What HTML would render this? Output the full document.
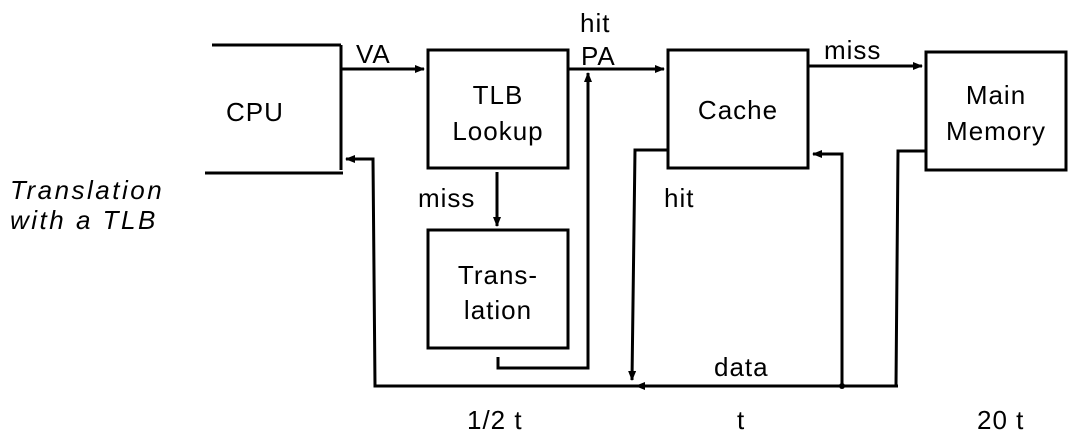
<!DOCTYPE html>
<html><head><style>
html,body{margin:0;padding:0;background:#fff;}
svg text{font-family:"Liberation Sans",sans-serif;font-size:26px;fill:#000;letter-spacing:1px;}
</style></head><body>
<svg width="1069" height="440" viewBox="0 0 1069 440" xmlns="http://www.w3.org/2000/svg">
<defs><marker id="a" markerWidth="10" markerHeight="8" refX="9" refY="4" orient="auto" markerUnits="userSpaceOnUse"><path d="M0,0 L10,4 L0,8 z" fill="#000"/></marker></defs>
<g stroke="#000" stroke-width="3" fill="none">
<line x1="212" y1="45" x2="341" y2="45"/>
<line x1="341" y1="45" x2="341" y2="170"/>
<line x1="205" y1="173" x2="343" y2="173"/>
<line x1="342" y1="69" x2="424" y2="69" marker-end="url(#a)"/>
<rect x="428" y="50" width="140" height="118"/>
<rect x="428" y="230" width="140" height="118"/>
<line x1="497" y1="172" x2="497" y2="226" marker-end="url(#a)"/>
<polyline points="498,357 498,368 588,368 588,73" marker-end="url(#a)"/>
<line x1="568" y1="69" x2="664" y2="69" marker-end="url(#a)"/>
<rect x="668" y="50" width="140" height="118"/>
<polyline points="668,150 635,150 632,380" marker-end="url(#a)"/>
<line x1="898" y1="386" x2="636" y2="386" marker-end="url(#a)"/>
<polyline points="636,386 375,386 373,159 346,159" marker-end="url(#a)"/>
<polyline points="842,386 842,154 813,154" marker-end="url(#a)"/>
<line x1="808" y1="66" x2="922" y2="66" marker-end="url(#a)"/>
<rect x="926" y="52" width="140" height="118"/>
<polyline points="926,151 898,151 896,386"/>
</g>
<circle cx="842" cy="386" r="3" fill="#000"/>
<text x="226" y="121">CPU</text>
<text x="356" y="63">VA</text>
<text x="498" y="104" text-anchor="middle">TLB</text>
<text x="498" y="140" text-anchor="middle">Lookup</text>
<text x="418" y="207">miss</text>
<text x="498" y="284" text-anchor="middle">Trans-</text>
<text x="498" y="319" text-anchor="middle">lation</text>
<text x="580" y="32">hit</text>
<text x="581" y="65">PA</text>
<text x="738" y="119" text-anchor="middle">Cache</text>
<text x="824" y="59">miss</text>
<text x="664" y="207">hit</text>
<text x="996" y="104" text-anchor="middle">Main</text>
<text x="996" y="140" text-anchor="middle">Memory</text>
<text x="714" y="376">data</text>
<text x="10" y="199" font-style="italic" style="letter-spacing:2.5px">Translation</text>
<text x="10" y="229" font-style="italic" style="letter-spacing:2.5px">with a TLB</text>
<text x="467" y="429">1/2 t</text>
<text x="737" y="429">t</text>
<text x="977" y="429">20 t</text>
</svg>
</body></html>
